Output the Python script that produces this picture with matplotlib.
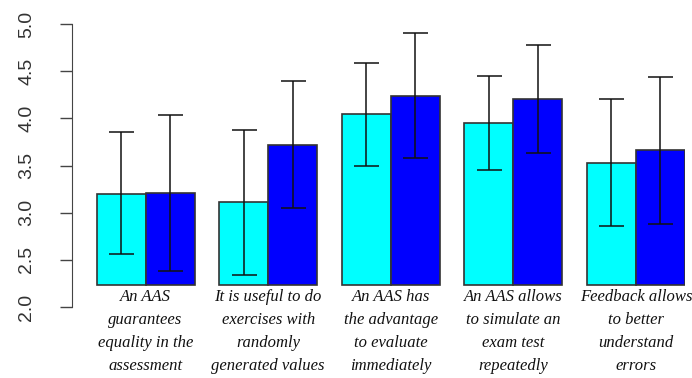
import numpy as np
import matplotlib
matplotlib.use("Agg")
import matplotlib.pyplot as plt

labels = [
    "An AAS\nguarantees\nequality in the\nassessment",
    "It is useful to do\nexercises with\nrandomly\ngenerated values",
    "An AAS has\nthe advantage\nto evaluate\nimmediately",
    "An AAS allows\nto simulate an\nexam test\nrepeatedly",
    "Feedback allows\nto better\nunderstand\nerrors",
]
cyan_vals = [3.20, 3.11, 4.05, 3.95, 3.53]
blue_vals = [3.21, 3.72, 4.24, 4.21, 3.66]
cyan_lo = [2.56, 2.34, 3.50, 3.45, 2.86]
cyan_hi = [3.85, 3.88, 4.59, 4.45, 4.20]
blue_lo = [2.38, 3.05, 3.58, 3.63, 2.88]
blue_hi = [4.04, 4.40, 4.90, 4.78, 4.44]
yticks = [2.0, 2.5, 3.0, 3.5, 4.0, 4.5, 5.0]

base = 2.233
W, H = 692, 378
fig = plt.figure(figsize=(W / 100, H / 100), dpi=100)
ax = fig.add_axes([72 / W, 1 - 307 / H, (685 - 72) / W, (307 - 24) / H])
ax.set_xlim(0, 12.5)
ax.set_ylim(2, 5)

n = len(labels)
gstart = 0.5 + 2.5 * np.arange(n)
xc = gstart + 0.5
xb = gstart + 1.5
gc = gstart + 1.0

cv = np.array(cyan_vals); bv = np.array(blue_vals)
ax.bar(xc, cv - base, bottom=base, width=1.0, color="#00FFFF",
       edgecolor="#333333", linewidth=1.2, zorder=2)
ax.bar(xb, bv - base, bottom=base, width=1.0, color="#0000FF",
       edgecolor="#333333", linewidth=1.2, zorder=2)

for x, v, lo, hi in [(xc, cv, cyan_lo, cyan_hi), (xb, bv, blue_lo, blue_hi)]:
    ax.errorbar(x, v, yerr=[v - np.array(lo), np.array(hi) - v], fmt="none",
                ecolor="#111111", elinewidth=1.1, capsize=9, capthick=1.1, zorder=3)

for g, lab in zip(gc, labels):
    ax.annotate(lab, xy=(g, base), xytext=(0, -3), textcoords="offset points",
                ha="center", va="top", fontsize=12, style="italic",
                family="Liberation Serif", linespacing=1.58, color="#111111",
                annotation_clip=False)

for s in ["top", "right", "bottom"]:
    ax.spines[s].set_visible(False)
ax.spines["left"].set_bounds(2, 5)
ax.spines["left"].set_color("#444444")
ax.set_xticks([])
ax.set_yticks(yticks)
ax.set_yticklabels([f"{t:.1f}" for t in yticks], family="Liberation Sans",
                   fontsize=14, color="#333333", rotation=90, va="center")
ax.tick_params(axis="y", direction="out", length=9, width=1, pad=17.5, color="#444444")

fig.savefig("out.png", dpi=100)
